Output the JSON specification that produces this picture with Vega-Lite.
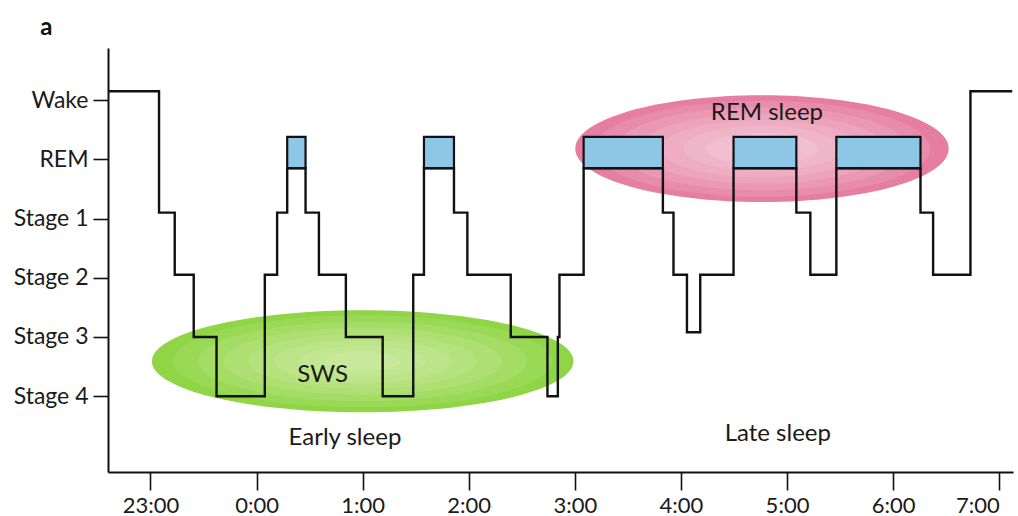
{
  "$schema": "https://vega.github.io/schema/vega-lite/v6.json",
  "width": 905,
  "height": 424,
  "autosize": {"type": "none"},
  "padding": {"left": 108, "top": 48, "right": 5, "bottom": 44},
  "background": "white",
  "config": {"view": {"stroke": null}, "font": "Lato"},
  "datasets": {
    "stages": [
      {"t": 22.6, "v": 5.15}, {"t": 23.081, "v": 3.1}, {"t": 23.229, "v": 2.05}, {"t": 23.408, "v": 1.0},
      {"t": 23.623, "v": 0}, {"t": 24.078, "v": 2.05}, {"t": 24.194, "v": 3.1}, {"t": 24.289, "v": 3.85},
      {"t": 24.462, "v": 3.1}, {"t": 24.588, "v": 2.05}, {"t": 24.842, "v": 1.0}, {"t": 25.189, "v": 0},
      {"t": 25.477, "v": 2.05}, {"t": 25.578, "v": 3.85}, {"t": 25.861, "v": 3.1}, {"t": 25.987, "v": 2.05},
      {"t": 26.396, "v": 1.0}, {"t": 26.742, "v": 0}, {"t": 26.84, "v": 1.0}, {"t": 26.855, "v": 2.05},
      {"t": 27.083, "v": 3.85}, {"t": 27.83, "v": 3.1}, {"t": 27.93, "v": 2.05}, {"t": 28.057, "v": 1.08},
      {"t": 28.182, "v": 2.05}, {"t": 28.496, "v": 3.85}, {"t": 29.088, "v": 3.1}, {"t": 29.22, "v": 2.05},
      {"t": 29.465, "v": 3.85}, {"t": 30.258, "v": 3.1}, {"t": 30.377, "v": 2.05}, {"t": 30.729, "v": 5.15},
      {"t": 31.123, "v": 5.15}
    ],
    "rem": [
      {"t": 24.289, "t2": 24.462, "v": 3.85, "v2": 4.38},
      {"t": 25.578, "t2": 25.861, "v": 3.85, "v2": 4.38},
      {"t": 27.083, "t2": 27.83, "v": 3.85, "v2": 4.38},
      {"t": 28.496, "t2": 29.088, "v": 3.85, "v2": 4.38},
      {"t": 29.465, "t2": 30.258, "v": 3.85, "v2": 4.38}
    ],
    "zones": [
      {"zone": "SWS", "t": 25.0, "v": 0.59},
      {"zone": "REM", "t": 28.764, "v": 4.18}
    ],
    "labels": [
      {"text": "SWS", "t": 24.623, "v": 0.36},
      {"text": "Early sleep", "t": 24.833, "v": -0.71},
      {"text": "Late sleep", "t": 28.913, "v": -0.64},
      {"text": "REM sleep", "t": 28.811, "v": 4.78}
    ],
    "marker": [{"t": 27}],
    "panel": [{"text": "a", "t": 22.02, "v": 6.22}]
  },
  "encoding": {
    "x": {
      "field": "t", "type": "quantitative",
      "scale": {"domain": [22.6, 31.13], "nice": false, "zero": false},
      "axis": {
        "title": null, "values": [23, 24, 25, 26, 27, 28, 29, 30, 31],
        "labelExpr": "format(datum.value % 24, 'd') + ':00'",
        "labelAlign": {"expr": "datum.value == 31 ? 'right' : 'center'"},
        "grid": false, "domainColor": "#111", "domainWidth": 2, "tickColor": "#111", "tickWidth": 1.6, "tickSize": 18,
        "labelFont": "Lato", "labelFontSize": 22, "labelColor": "#1a1a1a", "labelPadding": 5, "labelFlush": false, "labelOverlap": false
      }
    },
    "y": {
      "field": "v", "type": "quantitative",
      "scale": {"domain": [-1.28, 5.88], "nice": false, "zero": false},
      "axis": {
        "title": null, "values": [0, 1, 2, 3, 4, 5],
        "labelExpr": "['Stage 4', 'Stage 3', 'Stage 2', 'Stage 1', 'REM', 'Wake'][datum.value]",
        "grid": false, "domainColor": "#111", "domainWidth": 2, "tickColor": "#111", "tickWidth": 1.6, "tickSize": 15,
        "labelFont": "Lato", "labelFontSize": 23, "labelColor": "#1a1a1a", "labelPadding": 5, "labelFlush": false, "labelOverlap": false
      }
    }
  },
  "layer": [
    {"data": {"name": "zones"}, "transform": [{"filter": "datum.zone == 'SWS'"}],
     "mark": {"type": "point", "shape": "M-1,0A1,0.242,0,1,1,1,0A1,0.242,0,1,1,-1,0Z", "filled": true, "fill": "#8fd546", "opacity": 1, "strokeWidth": 0, "size": 177747}},
    {"data": {"name": "zones"}, "transform": [{"filter": "datum.zone == 'SWS'"}],
     "mark": {"type": "point", "shape": "M-1,0A1,0.242,0,1,1,1,0A1,0.242,0,1,1,-1,0Z", "filled": true, "fill": "#fbffe8", "opacity": 0.1, "strokeWidth": 0, "size": 143960}},
    {"data": {"name": "zones"}, "transform": [{"filter": "datum.zone == 'SWS'"}],
     "mark": {"type": "point", "shape": "M-1,0A1,0.242,0,1,1,1,0A1,0.242,0,1,1,-1,0Z", "filled": true, "fill": "#fbffe8", "opacity": 0.1, "strokeWidth": 0, "size": 108130}},
    {"data": {"name": "zones"}, "transform": [{"filter": "datum.zone == 'SWS'"}],
     "mark": {"type": "point", "shape": "M-1,0A1,0.242,0,1,1,1,0A1,0.242,0,1,1,-1,0Z", "filled": true, "fill": "#fbffe8", "opacity": 0.1, "strokeWidth": 0, "size": 77430}},
    {"data": {"name": "zones"}, "transform": [{"filter": "datum.zone == 'SWS'"}],
     "mark": {"type": "point", "shape": "M-1,0A1,0.242,0,1,1,1,0A1,0.242,0,1,1,-1,0Z", "filled": true, "fill": "#fbffe8", "opacity": 0.1, "strokeWidth": 0, "size": 51830}},
    {"data": {"name": "zones"}, "transform": [{"filter": "datum.zone == 'SWS'"}],
     "mark": {"type": "point", "shape": "M-1,0A1,0.242,0,1,1,1,0A1,0.242,0,1,1,-1,0Z", "filled": true, "fill": "#fbffe8", "opacity": 0.1, "strokeWidth": 0, "size": 31360}},
    {"data": {"name": "zones"}, "transform": [{"filter": "datum.zone == 'SWS'"}],
     "mark": {"type": "point", "shape": "M-1,0A1,0.242,0,1,1,1,0A1,0.242,0,1,1,-1,0Z", "filled": true, "fill": "#fbffe8", "opacity": 0.1, "strokeWidth": 0, "size": 16000}},
    {"data": {"name": "zones"}, "transform": [{"filter": "datum.zone == 'SWS'"}],
     "mark": {"type": "point", "shape": "M-1,0A1,0.242,0,1,1,1,0A1,0.242,0,1,1,-1,0Z", "filled": true, "fill": "#fbffe8", "opacity": 0.1, "strokeWidth": 0, "size": 5760}},
    {"data": {"name": "zones"}, "transform": [{"filter": "datum.zone == 'REM'"}],
     "mark": {"type": "point", "shape": "M-1,0A1,0.2855,0,1,1,1,0A1,0.2855,0,1,1,-1,0Z", "filled": true, "fill": "#e67ea1", "opacity": 1, "strokeWidth": 0, "size": 139428}},
    {"data": {"name": "zones"}, "transform": [{"filter": "datum.zone == 'REM'"}],
     "mark": {"type": "point", "shape": "M-1,0A1,0.2855,0,1,1,1,0A1,0.2855,0,1,1,-1,0Z", "filled": true, "fill": "white", "opacity": 0.11, "strokeWidth": 0, "size": 112940}},
    {"data": {"name": "zones"}, "transform": [{"filter": "datum.zone == 'REM'"}],
     "mark": {"type": "point", "shape": "M-1,0A1,0.2855,0,1,1,1,0A1,0.2855,0,1,1,-1,0Z", "filled": true, "fill": "white", "opacity": 0.11, "strokeWidth": 0, "size": 84840}},
    {"data": {"name": "zones"}, "transform": [{"filter": "datum.zone == 'REM'"}],
     "mark": {"type": "point", "shape": "M-1,0A1,0.2855,0,1,1,1,0A1,0.2855,0,1,1,-1,0Z", "filled": true, "fill": "white", "opacity": 0.11, "strokeWidth": 0, "size": 60730}},
    {"data": {"name": "zones"}, "transform": [{"filter": "datum.zone == 'REM'"}],
     "mark": {"type": "point", "shape": "M-1,0A1,0.2855,0,1,1,1,0A1,0.2855,0,1,1,-1,0Z", "filled": true, "fill": "white", "opacity": 0.11, "strokeWidth": 0, "size": 40660}},
    {"data": {"name": "zones"}, "transform": [{"filter": "datum.zone == 'REM'"}],
     "mark": {"type": "point", "shape": "M-1,0A1,0.2855,0,1,1,1,0A1,0.2855,0,1,1,-1,0Z", "filled": true, "fill": "white", "opacity": 0.11, "strokeWidth": 0, "size": 24600}},
    {"data": {"name": "zones"}, "transform": [{"filter": "datum.zone == 'REM'"}],
     "mark": {"type": "point", "shape": "M-1,0A1,0.2855,0,1,1,1,0A1,0.2855,0,1,1,-1,0Z", "filled": true, "fill": "white", "opacity": 0.11, "strokeWidth": 0, "size": 12550}},
    {"data": {"name": "zones"}, "transform": [{"filter": "datum.zone == 'REM'"}],
     "mark": {"type": "point", "shape": "M-1,0A1,0.2855,0,1,1,1,0A1,0.2855,0,1,1,-1,0Z", "filled": true, "fill": "white", "opacity": 0.11, "strokeWidth": 0, "size": 4520}},
    {"data": {"name": "marker"},
     "mark": {"type": "rule", "stroke": "#111", "strokeWidth": 2, "strokeDash": [7, 4]},
     "encoding": {"y": {"datum": 5.88}, "y2": {"datum": -1.28}}},
    {"data": {"name": "rem"},
     "mark": {"type": "rect", "fill": "#8ec6e6", "stroke": "#111", "strokeWidth": 2.2},
     "encoding": {"x2": {"field": "t2"}, "y2": {"field": "v2"}}},
    {"data": {"name": "stages"},
     "mark": {"type": "line", "interpolate": "step-after", "stroke": "#111", "strokeWidth": 2.4}},
    {"data": {"name": "labels"},
     "mark": {"type": "text", "font": "Lato", "fontSize": 24, "color": "#1a1a1a", "align": "center", "baseline": "middle"},
     "encoding": {"text": {"field": "text"}}},
    {"data": {"name": "panel"},
     "mark": {"type": "text", "font": "Lato", "fontSize": 24, "fontWeight": "bold", "color": "#111", "align": "center", "baseline": "middle"},
     "encoding": {"text": {"field": "text"}}}
  ]
}
